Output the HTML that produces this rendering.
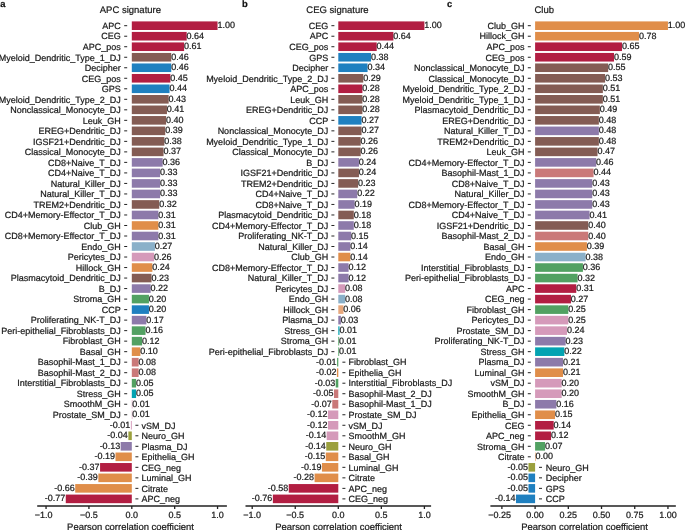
<!DOCTYPE html>
<html lang="en"><head><meta charset="utf-8"><title>Pearson correlation coefficient</title>
<style>
html,body{margin:0;padding:0;background:#fff;}
body{width:685px;height:530px;overflow:hidden;}
svg{display:block;text-rendering:geometricPrecision;font-family:"Liberation Sans",Arial,Helvetica,sans-serif;fill:#1a1a1a;}
text{stroke:#1a1a1a;stroke-width:0.22px;stroke-linejoin:round;}
</style></head><body>
<svg width="685" height="530" viewBox="0 0 685 530">
<rect width="685" height="530" fill="#fff"/>
<g>
<text x="0.2" y="7" font-size="9.4" font-weight="bold" fill="#111" stroke="#111" stroke-width="0.3" stroke-linejoin="round">a</text>
<text x="130.4" y="12.9" font-size="9.5" text-anchor="middle">APC signature</text>
<rect x="131.8" y="21.4" width="85.75" height="8.6" fill="#b21e42"/>
<rect x="131.8" y="31.92" width="54.88" height="8.6" fill="#b21e42"/>
<rect x="131.8" y="42.43" width="52.31" height="8.6" fill="#b21e42"/>
<rect x="131.8" y="52.95" width="39.45" height="8.6" fill="#845c54"/>
<rect x="131.8" y="63.46" width="39.45" height="8.6" fill="#1f80c0"/>
<rect x="131.8" y="73.98" width="38.59" height="8.6" fill="#b21e42"/>
<rect x="131.8" y="84.49" width="37.73" height="8.6" fill="#1f80c0"/>
<rect x="131.8" y="95.01" width="36.87" height="8.6" fill="#845c54"/>
<rect x="131.8" y="105.52" width="35.16" height="8.6" fill="#845c54"/>
<rect x="131.8" y="116.04" width="34.3" height="8.6" fill="#845c54"/>
<rect x="131.8" y="126.55" width="33.44" height="8.6" fill="#845c54"/>
<rect x="131.8" y="137.06" width="32.59" height="8.6" fill="#845c54"/>
<rect x="131.8" y="147.58" width="31.73" height="8.6" fill="#845c54"/>
<rect x="131.8" y="158.09" width="30.87" height="8.6" fill="#8d7aaa"/>
<rect x="131.8" y="168.61" width="28.3" height="8.6" fill="#8d7aaa"/>
<rect x="131.8" y="179.12" width="28.3" height="8.6" fill="#8d7aaa"/>
<rect x="131.8" y="189.64" width="28.3" height="8.6" fill="#8d7aaa"/>
<rect x="131.8" y="200.15" width="27.44" height="8.6" fill="#845c54"/>
<rect x="131.8" y="210.67" width="26.58" height="8.6" fill="#8d7aaa"/>
<rect x="131.8" y="221.19" width="26.58" height="8.6" fill="#e08e4a"/>
<rect x="131.8" y="231.7" width="26.58" height="8.6" fill="#8d7aaa"/>
<rect x="131.8" y="242.21" width="23.15" height="8.6" fill="#8ab0c9"/>
<rect x="131.8" y="252.73" width="22.3" height="8.6" fill="#d59aba"/>
<rect x="131.8" y="263.25" width="20.58" height="8.6" fill="#e08e4a"/>
<rect x="131.8" y="273.76" width="19.72" height="8.6" fill="#845c54"/>
<rect x="131.8" y="284.27" width="18.86" height="8.6" fill="#8d7aaa"/>
<rect x="131.8" y="294.79" width="17.15" height="8.6" fill="#52a162"/>
<rect x="131.8" y="305.31" width="17.15" height="8.6" fill="#1f80c0"/>
<rect x="131.8" y="315.82" width="14.58" height="8.6" fill="#8d7aaa"/>
<rect x="131.8" y="326.33" width="13.72" height="8.6" fill="#52a162"/>
<rect x="131.8" y="336.85" width="10.29" height="8.6" fill="#52a162"/>
<rect x="131.8" y="347.37" width="8.58" height="8.6" fill="#e08e4a"/>
<rect x="131.8" y="357.88" width="6.86" height="8.6" fill="#ca7979"/>
<rect x="131.8" y="368.39" width="6.86" height="8.6" fill="#ca7979"/>
<rect x="131.8" y="378.91" width="4.29" height="8.6" fill="#52a162"/>
<rect x="131.8" y="389.43" width="4.29" height="8.6" fill="#03a3b2"/>
<rect x="131.8" y="399.94" width="0.6" height="8.6" fill="#d59aba"/>
<rect x="131.8" y="410.45" width="0.6" height="8.6" fill="#d59aba"/>
<rect x="130.86" y="420.97" width="0.94" height="8.6" fill="#d59aba"/>
<rect x="128.37" y="431.49" width="3.43" height="8.6" fill="#9ba03d"/>
<rect x="120.65" y="442" width="11.15" height="8.6" fill="#8d7aaa"/>
<rect x="115.51" y="452.51" width="16.29" height="8.6" fill="#e08e4a"/>
<rect x="100.07" y="463.03" width="31.73" height="8.6" fill="#b21e42"/>
<rect x="98.36" y="473.55" width="33.44" height="8.6" fill="#e08e4a"/>
<rect x="75.21" y="484.06" width="56.6" height="8.6" fill="#e08e4a"/>
<rect x="65.77" y="494.57" width="66.03" height="8.6" fill="#b21e42"/>
<path d="M127.2 25.7h-3M127.2 36.22h-3M127.2 46.73h-3M127.2 57.25h-3M127.2 67.76h-3M127.2 78.28h-3M127.2 88.79h-3M127.2 99.31h-3M127.2 109.82h-3M127.2 120.34h-3M127.2 130.85h-3M127.2 141.37h-3M127.2 151.88h-3M127.2 162.39h-3M127.2 172.91h-3M127.2 183.43h-3M127.2 193.94h-3M127.2 204.45h-3M127.2 214.97h-3M127.2 225.49h-3M127.2 236h-3M127.2 246.51h-3M127.2 257.03h-3M127.2 267.55h-3M127.2 278.06h-3M127.2 288.57h-3M127.2 299.09h-3M127.2 309.61h-3M127.2 320.12h-3M127.2 330.63h-3M127.2 341.15h-3M127.2 351.67h-3M127.2 362.18h-3M127.2 372.69h-3M127.2 383.21h-3M127.2 393.73h-3M127.2 404.24h-3M127.2 414.75h-3M135.4 425.27h3M135.4 435.79h3M135.4 446.3h3M135.4 456.81h3M135.4 467.33h3M135.4 477.85h3M135.4 488.36h3M135.4 498.88h3" stroke="#222" stroke-width="1.0" fill="none"/>
<g font-size="9">
<text x="120.8" y="28.95" text-anchor="end">APC</text>
<text x="217.45" y="28.25">1.00</text>
<text x="120.8" y="39.47" text-anchor="end">CEG</text>
<text x="186.58" y="38.77">0.64</text>
<text x="120.8" y="49.98" text-anchor="end">APC_pos</text>
<text x="184.01" y="49.28">0.61</text>
<text x="120.8" y="60.5" text-anchor="end">Myeloid_Dendritic_Type_1_DJ</text>
<text x="171.15" y="59.8">0.46</text>
<text x="120.8" y="71.01" text-anchor="end">Decipher</text>
<text x="171.15" y="70.31">0.46</text>
<text x="120.8" y="81.53" text-anchor="end">CEG_pos</text>
<text x="170.29" y="80.83">0.45</text>
<text x="120.8" y="92.04" text-anchor="end">GPS</text>
<text x="169.43" y="91.34">0.44</text>
<text x="120.8" y="102.56" text-anchor="end">Myeloid_Dendritic_Type_2_DJ</text>
<text x="168.57" y="101.86">0.43</text>
<text x="120.8" y="113.07" text-anchor="end">Nonclassical_Monocyte_DJ</text>
<text x="166.86" y="112.37">0.41</text>
<text x="120.8" y="123.59" text-anchor="end">Leuk_GH</text>
<text x="166" y="122.89">0.40</text>
<text x="120.8" y="134.1" text-anchor="end">EREG+Dendritic_DJ</text>
<text x="165.14" y="133.4">0.39</text>
<text x="120.8" y="144.62" text-anchor="end">IGSF21+Dendritic_DJ</text>
<text x="164.29" y="143.92">0.38</text>
<text x="120.8" y="155.13" text-anchor="end">Classical_Monocyte_DJ</text>
<text x="163.43" y="154.43">0.37</text>
<text x="120.8" y="165.64" text-anchor="end">CD8+Naive_T_DJ</text>
<text x="162.57" y="164.94">0.36</text>
<text x="120.8" y="176.16" text-anchor="end">CD4+Naive_T_DJ</text>
<text x="160" y="175.46">0.33</text>
<text x="120.8" y="186.68" text-anchor="end">Natural_Killer_DJ</text>
<text x="160" y="185.98">0.33</text>
<text x="120.8" y="197.19" text-anchor="end">Natural_Killer_T_DJ</text>
<text x="160" y="196.49">0.33</text>
<text x="120.8" y="207.7" text-anchor="end">TREM2+Dendritic_DJ</text>
<text x="159.14" y="207">0.32</text>
<text x="120.8" y="218.22" text-anchor="end">CD4+Memory-Effector_T_DJ</text>
<text x="158.28" y="217.52">0.31</text>
<text x="120.8" y="228.74" text-anchor="end">Club_GH</text>
<text x="158.28" y="228.04">0.31</text>
<text x="120.8" y="239.25" text-anchor="end">CD8+Memory-Effector_T_DJ</text>
<text x="158.28" y="238.55">0.31</text>
<text x="120.8" y="249.76" text-anchor="end">Endo_GH</text>
<text x="154.85" y="249.06">0.27</text>
<text x="120.8" y="260.28" text-anchor="end">Pericytes_DJ</text>
<text x="154" y="259.58">0.26</text>
<text x="120.8" y="270.8" text-anchor="end">Hillock_GH</text>
<text x="152.28" y="270.1">0.24</text>
<text x="120.8" y="281.31" text-anchor="end">Plasmacytoid_Dendritic_DJ</text>
<text x="151.42" y="280.61">0.23</text>
<text x="120.8" y="291.82" text-anchor="end">B_DJ</text>
<text x="150.57" y="291.12">0.22</text>
<text x="120.8" y="302.34" text-anchor="end">Stroma_GH</text>
<text x="148.85" y="301.64">0.20</text>
<text x="120.8" y="312.86" text-anchor="end">CCP</text>
<text x="148.85" y="312.16">0.20</text>
<text x="120.8" y="323.37" text-anchor="end">Proliferating_NK-T_DJ</text>
<text x="146.28" y="322.67">0.17</text>
<text x="120.8" y="333.88" text-anchor="end">Peri-epithelial_Fibroblasts_DJ</text>
<text x="145.42" y="333.19">0.16</text>
<text x="120.8" y="344.4" text-anchor="end">Fibroblast_GH</text>
<text x="141.99" y="343.7">0.12</text>
<text x="120.8" y="354.92" text-anchor="end">Basal_GH</text>
<text x="140.28" y="354.22">0.10</text>
<text x="120.8" y="365.43" text-anchor="end">Basophil-Mast_1_DJ</text>
<text x="138.56" y="364.73">0.08</text>
<text x="120.8" y="375.94" text-anchor="end">Basophil-Mast_2_DJ</text>
<text x="138.56" y="375.25">0.08</text>
<text x="120.8" y="386.46" text-anchor="end">Interstitial_Fibroblasts_DJ</text>
<text x="135.99" y="385.76">0.05</text>
<text x="120.8" y="396.98" text-anchor="end">Stress_GH</text>
<text x="135.99" y="396.28">0.05</text>
<text x="120.8" y="407.49" text-anchor="end">SmoothM_GH</text>
<text x="132.3" y="406.79">0.01</text>
<text x="120.8" y="418" text-anchor="end">Prostate_SM_DJ</text>
<text x="132.3" y="417.31">0.01</text>
<text x="141.4" y="428.52">vSM_DJ</text>
<text x="130.36" y="427.82" text-anchor="end">-0.01</text>
<text x="141.4" y="439.04">Neuro_GH</text>
<text x="127.87" y="438.34" text-anchor="end">-0.04</text>
<text x="141.4" y="449.55">Plasma_DJ</text>
<text x="120.15" y="448.85" text-anchor="end">-0.13</text>
<text x="141.4" y="460.06">Epithelia_GH</text>
<text x="115.01" y="459.37" text-anchor="end">-0.19</text>
<text x="141.4" y="470.58">CEG_neg</text>
<text x="99.57" y="469.88" text-anchor="end">-0.37</text>
<text x="141.4" y="481.1">Luminal_GH</text>
<text x="97.86" y="480.4" text-anchor="end">-0.39</text>
<text x="141.4" y="491.61">Citrate</text>
<text x="74.71" y="490.91" text-anchor="end">-0.66</text>
<text x="141.4" y="502.12">APC_neg</text>
<text x="65.27" y="501.43" text-anchor="end">-0.77</text>
</g>
<path d="M37.2 506H226.9M46.05 506v3M88.93 506v3M131.8 506v3M174.68 506v3M217.55 506v3" stroke="#222" stroke-width="1.3" fill="none"/>
<g font-size="9" text-anchor="middle">
<text x="43.75" y="518.45">−1.0</text>
<text x="88.93" y="518.45">−0.5</text>
<text x="131.8" y="518.45">0.0</text>
<text x="174.68" y="518.45">0.5</text>
<text x="217.55" y="518.45">1.0</text>
</g>
<text x="130.5" y="529.8" font-size="9.45" text-anchor="middle">Pearson correlation coefficient</text>
</g>
<g>
<text x="242.1" y="7" font-size="9.4" font-weight="bold" fill="#111" stroke="#111" stroke-width="0.3" stroke-linejoin="round">b</text>
<text x="337.5" y="12.9" font-size="9.5" text-anchor="middle">CEG signature</text>
<rect x="338.3" y="21.4" width="86.1" height="8.6" fill="#b21e42"/>
<rect x="338.3" y="31.92" width="55.1" height="8.6" fill="#b21e42"/>
<rect x="338.3" y="42.43" width="38.4" height="8.6" fill="#b21e42"/>
<rect x="338.3" y="52.95" width="32.72" height="8.6" fill="#1f80c0"/>
<rect x="338.3" y="63.46" width="29.27" height="8.6" fill="#1f80c0"/>
<rect x="338.3" y="73.98" width="24.97" height="8.6" fill="#845c54"/>
<rect x="338.3" y="84.49" width="24.11" height="8.6" fill="#b21e42"/>
<rect x="338.3" y="95.01" width="24.11" height="8.6" fill="#845c54"/>
<rect x="338.3" y="105.52" width="24.11" height="8.6" fill="#845c54"/>
<rect x="338.3" y="116.04" width="23.25" height="8.6" fill="#1f80c0"/>
<rect x="338.3" y="126.55" width="23.25" height="8.6" fill="#845c54"/>
<rect x="338.3" y="137.06" width="22.39" height="8.6" fill="#845c54"/>
<rect x="338.3" y="147.58" width="22.39" height="8.6" fill="#845c54"/>
<rect x="338.3" y="158.09" width="20.66" height="8.6" fill="#8d7aaa"/>
<rect x="338.3" y="168.61" width="20.66" height="8.6" fill="#845c54"/>
<rect x="338.3" y="179.12" width="19.8" height="8.6" fill="#845c54"/>
<rect x="338.3" y="189.64" width="18.94" height="8.6" fill="#8d7aaa"/>
<rect x="338.3" y="200.15" width="16.36" height="8.6" fill="#8d7aaa"/>
<rect x="338.3" y="210.67" width="15.5" height="8.6" fill="#845c54"/>
<rect x="338.3" y="221.19" width="15.5" height="8.6" fill="#8d7aaa"/>
<rect x="338.3" y="231.7" width="12.91" height="8.6" fill="#8d7aaa"/>
<rect x="338.3" y="242.21" width="12.05" height="8.6" fill="#8d7aaa"/>
<rect x="338.3" y="252.73" width="12.05" height="8.6" fill="#e08e4a"/>
<rect x="338.3" y="263.25" width="10.33" height="8.6" fill="#8d7aaa"/>
<rect x="338.3" y="273.76" width="10.33" height="8.6" fill="#8d7aaa"/>
<rect x="338.3" y="284.27" width="6.89" height="8.6" fill="#d59aba"/>
<rect x="338.3" y="294.79" width="6.89" height="8.6" fill="#8ab0c9"/>
<rect x="338.3" y="305.31" width="5.17" height="8.6" fill="#e7a87d"/>
<rect x="338.3" y="315.82" width="2.58" height="8.6" fill="#8d7aaa"/>
<rect x="338.3" y="326.33" width="1.21" height="8.6" fill="#03a3b2"/>
<rect x="338.3" y="336.85" width="0.86" height="8.6" fill="#52a162"/>
<rect x="338.3" y="347.37" width="0.86" height="8.6" fill="#52a162"/>
<rect x="337.09" y="357.88" width="1.21" height="8.6" fill="#52a162"/>
<rect x="336.92" y="368.39" width="1.38" height="8.6" fill="#e08e4a"/>
<rect x="335.72" y="378.91" width="2.58" height="8.6" fill="#52a162"/>
<rect x="334" y="389.43" width="4.3" height="8.6" fill="#ca7979"/>
<rect x="332.27" y="399.94" width="6.03" height="8.6" fill="#ca7979"/>
<rect x="327.97" y="410.45" width="10.33" height="8.6" fill="#d59aba"/>
<rect x="327.97" y="420.97" width="10.33" height="8.6" fill="#d59aba"/>
<rect x="326.68" y="431.49" width="11.62" height="8.6" fill="#d59aba"/>
<rect x="326.25" y="442" width="12.05" height="8.6" fill="#9ba03d"/>
<rect x="325.77" y="452.51" width="12.53" height="8.6" fill="#e08e4a"/>
<rect x="321.94" y="463.03" width="16.36" height="8.6" fill="#e08e4a"/>
<rect x="314.58" y="473.55" width="23.72" height="8.6" fill="#e08e4a"/>
<rect x="288.75" y="484.06" width="49.55" height="8.6" fill="#b21e42"/>
<rect x="272.86" y="494.57" width="65.44" height="8.6" fill="#b21e42"/>
<path d="M334.4 25.7h-3M334.4 36.22h-3M334.4 46.73h-3M334.4 57.25h-3M334.4 67.76h-3M334.4 78.28h-3M334.4 88.79h-3M334.4 99.31h-3M334.4 109.82h-3M334.4 120.34h-3M334.4 130.85h-3M334.4 141.37h-3M334.4 151.88h-3M334.4 162.39h-3M334.4 172.91h-3M334.4 183.43h-3M334.4 193.94h-3M334.4 204.45h-3M334.4 214.97h-3M334.4 225.49h-3M334.4 236h-3M334.4 246.51h-3M334.4 257.03h-3M334.4 267.55h-3M334.4 278.06h-3M334.4 288.57h-3M334.4 299.09h-3M334.4 309.61h-3M334.4 320.12h-3M334.4 330.63h-3M334.4 341.15h-3M334.4 351.67h-3M342.4 362.18h3M342.4 372.69h3M342.4 383.21h3M342.4 393.73h3M342.4 404.24h3M342.4 414.75h3M342.4 425.27h3M342.4 435.79h3M342.4 446.3h3M342.4 456.81h3M342.4 467.33h3M342.4 477.85h3M342.4 488.36h3M342.4 498.88h3" stroke="#222" stroke-width="1.0" fill="none"/>
<g font-size="9">
<text x="328.2" y="28.95" text-anchor="end">CEG</text>
<text x="424.3" y="28.25">1.00</text>
<text x="328.2" y="39.47" text-anchor="end">APC</text>
<text x="393.3" y="38.77">0.64</text>
<text x="328.2" y="49.98" text-anchor="end">CEG_pos</text>
<text x="376.6" y="49.28">0.44</text>
<text x="328.2" y="60.5" text-anchor="end">GPS</text>
<text x="370.92" y="59.8">0.38</text>
<text x="328.2" y="71.01" text-anchor="end">Decipher</text>
<text x="367.47" y="70.31">0.34</text>
<text x="328.2" y="81.53" text-anchor="end">Myeloid_Dendritic_Type_2_DJ</text>
<text x="363.17" y="80.83">0.29</text>
<text x="328.2" y="92.04" text-anchor="end">APC_pos</text>
<text x="362.31" y="91.34">0.28</text>
<text x="328.2" y="102.56" text-anchor="end">Leuk_GH</text>
<text x="362.31" y="101.86">0.28</text>
<text x="328.2" y="113.07" text-anchor="end">EREG+Dendritic_DJ</text>
<text x="362.31" y="112.37">0.28</text>
<text x="328.2" y="123.59" text-anchor="end">CCP</text>
<text x="361.45" y="122.89">0.27</text>
<text x="328.2" y="134.1" text-anchor="end">Nonclassical_Monocyte_DJ</text>
<text x="361.45" y="133.4">0.27</text>
<text x="328.2" y="144.62" text-anchor="end">Myeloid_Dendritic_Type_1_DJ</text>
<text x="360.59" y="143.92">0.26</text>
<text x="328.2" y="155.13" text-anchor="end">Classical_Monocyte_DJ</text>
<text x="360.59" y="154.43">0.26</text>
<text x="328.2" y="165.64" text-anchor="end">B_DJ</text>
<text x="358.86" y="164.94">0.24</text>
<text x="328.2" y="176.16" text-anchor="end">IGSF21+Dendritic_DJ</text>
<text x="358.86" y="175.46">0.24</text>
<text x="328.2" y="186.68" text-anchor="end">TREM2+Dendritic_DJ</text>
<text x="358" y="185.98">0.23</text>
<text x="328.2" y="197.19" text-anchor="end">CD4+Naive_T_DJ</text>
<text x="357.14" y="196.49">0.22</text>
<text x="328.2" y="207.7" text-anchor="end">CD8+Naive_T_DJ</text>
<text x="354.56" y="207">0.19</text>
<text x="328.2" y="218.22" text-anchor="end">Plasmacytoid_Dendritic_DJ</text>
<text x="353.7" y="217.52">0.18</text>
<text x="328.2" y="228.74" text-anchor="end">CD4+Memory-Effector_T_DJ</text>
<text x="353.7" y="228.04">0.18</text>
<text x="328.2" y="239.25" text-anchor="end">Proliferating_NK-T_DJ</text>
<text x="351.12" y="238.55">0.15</text>
<text x="328.2" y="249.76" text-anchor="end">Natural_Killer_DJ</text>
<text x="350.25" y="249.06">0.14</text>
<text x="328.2" y="260.28" text-anchor="end">Club_GH</text>
<text x="350.25" y="259.58">0.14</text>
<text x="328.2" y="270.8" text-anchor="end">CD8+Memory-Effector_T_DJ</text>
<text x="348.53" y="270.1">0.12</text>
<text x="328.2" y="281.31" text-anchor="end">Natural_Killer_T_DJ</text>
<text x="348.53" y="280.61">0.12</text>
<text x="328.2" y="291.82" text-anchor="end">Pericytes_DJ</text>
<text x="345.09" y="291.12">0.08</text>
<text x="328.2" y="302.34" text-anchor="end">Endo_GH</text>
<text x="345.09" y="301.64">0.08</text>
<text x="328.2" y="312.86" text-anchor="end">Hillock_GH</text>
<text x="343.37" y="312.16">0.06</text>
<text x="328.2" y="323.37" text-anchor="end">Plasma_DJ</text>
<text x="340.78" y="322.67">0.03</text>
<text x="328.2" y="333.88" text-anchor="end">Stress_GH</text>
<text x="339.41" y="333.19">0.01</text>
<text x="328.2" y="344.4" text-anchor="end">Stroma_GH</text>
<text x="339.06" y="343.7">0.01</text>
<text x="328.2" y="354.92" text-anchor="end">Peri-epithelial_Fibroblasts_DJ</text>
<text x="339.06" y="354.22">0.01</text>
<text x="348.6" y="365.43">Fibroblast_GH</text>
<text x="336.59" y="364.73" text-anchor="end">-0.01</text>
<text x="348.6" y="375.94">Epithelia_GH</text>
<text x="336.42" y="375.25" text-anchor="end">-0.02</text>
<text x="348.6" y="386.46">Interstitial_Fibroblasts_DJ</text>
<text x="335.22" y="385.76" text-anchor="end">-0.03</text>
<text x="348.6" y="396.98">Basophil-Mast_2_DJ</text>
<text x="333.5" y="396.28" text-anchor="end">-0.05</text>
<text x="348.6" y="407.49">Basophil-Mast_1_DJ</text>
<text x="331.77" y="406.79" text-anchor="end">-0.07</text>
<text x="348.6" y="418">Prostate_SM_DJ</text>
<text x="327.47" y="417.31" text-anchor="end">-0.12</text>
<text x="348.6" y="428.52">vSM_DJ</text>
<text x="327.47" y="427.82" text-anchor="end">-0.12</text>
<text x="348.6" y="439.04">SmoothM_GH</text>
<text x="326.18" y="438.34" text-anchor="end">-0.14</text>
<text x="348.6" y="449.55">Neuro_GH</text>
<text x="325.75" y="448.85" text-anchor="end">-0.14</text>
<text x="348.6" y="460.06">Basal_GH</text>
<text x="325.27" y="459.37" text-anchor="end">-0.15</text>
<text x="348.6" y="470.58">Luminal_GH</text>
<text x="321.44" y="469.88" text-anchor="end">-0.19</text>
<text x="348.6" y="481.1">Citrate</text>
<text x="314.08" y="480.4" text-anchor="end">-0.28</text>
<text x="348.6" y="491.61">APC_neg</text>
<text x="288.25" y="490.91" text-anchor="end">-0.58</text>
<text x="348.6" y="502.12">CEG_neg</text>
<text x="272.36" y="501.43" text-anchor="end">-0.76</text>
</g>
<path d="M245.5 506H431.1M252.2 506v3M295.25 506v3M338.3 506v3M381.35 506v3M424.4 506v3" stroke="#222" stroke-width="1.3" fill="none"/>
<g font-size="9" text-anchor="middle">
<text x="252.2" y="518.45">−1.0</text>
<text x="295.25" y="518.45">−0.5</text>
<text x="338.3" y="518.45">0.0</text>
<text x="381.35" y="518.45">0.5</text>
<text x="424.4" y="518.45">1.0</text>
</g>
<text x="338.6" y="529.8" font-size="9.45" text-anchor="middle">Pearson correlation coefficient</text>
</g>
<g>
<text x="447" y="7" font-size="9.4" font-weight="bold" fill="#111" stroke="#111" stroke-width="0.3" stroke-linejoin="round">c</text>
<text x="544.2" y="12.9" font-size="9.5" text-anchor="middle">Club</text>
<rect x="535.1" y="21.4" width="132.85" height="8.6" fill="#e08e4a"/>
<rect x="535.1" y="31.92" width="103.89" height="8.6" fill="#e08e4a"/>
<rect x="535.1" y="42.43" width="86.88" height="8.6" fill="#b21e42"/>
<rect x="535.1" y="52.95" width="78.91" height="8.6" fill="#b21e42"/>
<rect x="535.1" y="63.46" width="73.07" height="8.6" fill="#845c54"/>
<rect x="535.1" y="73.98" width="70.01" height="8.6" fill="#845c54"/>
<rect x="535.1" y="84.49" width="67.75" height="8.6" fill="#845c54"/>
<rect x="535.1" y="95.01" width="67.75" height="8.6" fill="#845c54"/>
<rect x="535.1" y="105.52" width="64.76" height="8.6" fill="#845c54"/>
<rect x="535.1" y="116.04" width="63.77" height="8.6" fill="#845c54"/>
<rect x="535.1" y="126.55" width="63.77" height="8.6" fill="#8d7aaa"/>
<rect x="535.1" y="137.06" width="63.77" height="8.6" fill="#845c54"/>
<rect x="535.1" y="147.58" width="62.44" height="8.6" fill="#845c54"/>
<rect x="535.1" y="158.09" width="61.11" height="8.6" fill="#8d7aaa"/>
<rect x="535.1" y="168.61" width="58.45" height="8.6" fill="#ca7979"/>
<rect x="535.1" y="179.12" width="57.13" height="8.6" fill="#8d7aaa"/>
<rect x="535.1" y="189.64" width="57.13" height="8.6" fill="#8d7aaa"/>
<rect x="535.1" y="200.15" width="57.13" height="8.6" fill="#8d7aaa"/>
<rect x="535.1" y="210.67" width="54.47" height="8.6" fill="#8d7aaa"/>
<rect x="535.1" y="221.19" width="53.14" height="8.6" fill="#845c54"/>
<rect x="535.1" y="231.7" width="53.14" height="8.6" fill="#ca7979"/>
<rect x="535.1" y="242.21" width="51.81" height="8.6" fill="#e08e4a"/>
<rect x="535.1" y="252.73" width="50.48" height="8.6" fill="#8ab0c9"/>
<rect x="535.1" y="263.25" width="47.83" height="8.6" fill="#52a162"/>
<rect x="535.1" y="273.76" width="42.51" height="8.6" fill="#52a162"/>
<rect x="535.1" y="284.27" width="41.18" height="8.6" fill="#b21e42"/>
<rect x="535.1" y="294.79" width="35.87" height="8.6" fill="#b21e42"/>
<rect x="535.1" y="305.31" width="33.21" height="8.6" fill="#52a162"/>
<rect x="535.1" y="315.82" width="33.21" height="8.6" fill="#d59aba"/>
<rect x="535.1" y="326.33" width="31.88" height="8.6" fill="#d59aba"/>
<rect x="535.1" y="336.85" width="30.56" height="8.6" fill="#8d7aaa"/>
<rect x="535.1" y="347.37" width="29.23" height="8.6" fill="#03a3b2"/>
<rect x="535.1" y="357.88" width="27.9" height="8.6" fill="#8d7aaa"/>
<rect x="535.1" y="368.39" width="27.9" height="8.6" fill="#e08e4a"/>
<rect x="535.1" y="378.91" width="26.57" height="8.6" fill="#d59aba"/>
<rect x="535.1" y="389.43" width="26.57" height="8.6" fill="#d59aba"/>
<rect x="535.1" y="399.94" width="21.26" height="8.6" fill="#8d7aaa"/>
<rect x="535.1" y="410.45" width="19.93" height="8.6" fill="#e08e4a"/>
<rect x="535.1" y="420.97" width="18.6" height="8.6" fill="#b21e42"/>
<rect x="535.1" y="431.49" width="15.94" height="8.6" fill="#b21e42"/>
<rect x="535.1" y="442" width="9.96" height="8.6" fill="#52a162"/>
<rect x="535.1" y="452.51" width="0.53" height="8.6" fill="#e08e4a"/>
<rect x="528.46" y="463.03" width="6.64" height="8.6" fill="#9ba03d"/>
<rect x="528.46" y="473.55" width="6.64" height="8.6" fill="#1f80c0"/>
<rect x="528.46" y="484.06" width="6.64" height="8.6" fill="#1f80c0"/>
<rect x="515.97" y="494.57" width="19.13" height="8.6" fill="#1f80c0"/>
<path d="M530.8 25.7h-3M530.8 36.22h-3M530.8 46.73h-3M530.8 57.25h-3M530.8 67.76h-3M530.8 78.28h-3M530.8 88.79h-3M530.8 99.31h-3M530.8 109.82h-3M530.8 120.34h-3M530.8 130.85h-3M530.8 141.37h-3M530.8 151.88h-3M530.8 162.39h-3M530.8 172.91h-3M530.8 183.43h-3M530.8 193.94h-3M530.8 204.45h-3M530.8 214.97h-3M530.8 225.49h-3M530.8 236h-3M530.8 246.51h-3M530.8 257.03h-3M530.8 267.55h-3M530.8 278.06h-3M530.8 288.57h-3M530.8 299.09h-3M530.8 309.61h-3M530.8 320.12h-3M530.8 330.63h-3M530.8 341.15h-3M530.8 351.67h-3M530.8 362.18h-3M530.8 372.69h-3M530.8 383.21h-3M530.8 393.73h-3M530.8 404.24h-3M530.8 414.75h-3M530.8 425.27h-3M530.8 435.79h-3M530.8 446.3h-3M530.8 456.81h-3M539 467.33h3M539 477.85h3M539 488.36h3M539 498.88h3" stroke="#222" stroke-width="1.0" fill="none"/>
<g font-size="9">
<text x="524.6" y="28.95" text-anchor="end">Club_GH</text>
<text x="667.85" y="28.25">1.00</text>
<text x="524.6" y="39.47" text-anchor="end">Hillock_GH</text>
<text x="638.89" y="38.77">0.78</text>
<text x="524.6" y="49.98" text-anchor="end">APC_pos</text>
<text x="621.88" y="49.28">0.65</text>
<text x="524.6" y="60.5" text-anchor="end">CEG_pos</text>
<text x="613.91" y="59.8">0.59</text>
<text x="524.6" y="71.01" text-anchor="end">Nonclassical_Monocyte_DJ</text>
<text x="608.07" y="70.31">0.55</text>
<text x="524.6" y="81.53" text-anchor="end">Classical_Monocyte_DJ</text>
<text x="605.01" y="80.83">0.53</text>
<text x="524.6" y="92.04" text-anchor="end">Myeloid_Dendritic_Type_2_DJ</text>
<text x="602.75" y="91.34">0.51</text>
<text x="524.6" y="102.56" text-anchor="end">Myeloid_Dendritic_Type_1_DJ</text>
<text x="602.75" y="101.86">0.51</text>
<text x="524.6" y="113.07" text-anchor="end">Plasmacytoid_Dendritic_DJ</text>
<text x="599.76" y="112.37">0.49</text>
<text x="524.6" y="123.59" text-anchor="end">EREG+Dendritic_DJ</text>
<text x="598.77" y="122.89">0.48</text>
<text x="524.6" y="134.1" text-anchor="end">Natural_Killer_T_DJ</text>
<text x="598.77" y="133.4">0.48</text>
<text x="524.6" y="144.62" text-anchor="end">TREM2+Dendritic_DJ</text>
<text x="598.77" y="143.92">0.48</text>
<text x="524.6" y="155.13" text-anchor="end">Leuk_GH</text>
<text x="597.44" y="154.43">0.47</text>
<text x="524.6" y="165.64" text-anchor="end">CD4+Memory-Effector_T_DJ</text>
<text x="596.11" y="164.94">0.46</text>
<text x="524.6" y="176.16" text-anchor="end">Basophil-Mast_1_DJ</text>
<text x="593.45" y="175.46">0.44</text>
<text x="524.6" y="186.68" text-anchor="end">CD8+Naive_T_DJ</text>
<text x="592.13" y="185.98">0.43</text>
<text x="524.6" y="197.19" text-anchor="end">Natural_Killer_DJ</text>
<text x="592.13" y="196.49">0.43</text>
<text x="524.6" y="207.7" text-anchor="end">CD8+Memory-Effector_T_DJ</text>
<text x="592.13" y="207">0.43</text>
<text x="524.6" y="218.22" text-anchor="end">CD4+Naive_T_DJ</text>
<text x="589.47" y="217.52">0.41</text>
<text x="524.6" y="228.74" text-anchor="end">IGSF21+Dendritic_DJ</text>
<text x="588.14" y="228.04">0.40</text>
<text x="524.6" y="239.25" text-anchor="end">Basophil-Mast_2_DJ</text>
<text x="588.14" y="238.55">0.40</text>
<text x="524.6" y="249.76" text-anchor="end">Basal_GH</text>
<text x="586.81" y="249.06">0.39</text>
<text x="524.6" y="260.28" text-anchor="end">Endo_GH</text>
<text x="585.48" y="259.58">0.38</text>
<text x="524.6" y="270.8" text-anchor="end">Interstitial_Fibroblasts_DJ</text>
<text x="582.83" y="270.1">0.36</text>
<text x="524.6" y="281.31" text-anchor="end">Peri-epithelial_Fibroblasts_DJ</text>
<text x="577.51" y="280.61">0.32</text>
<text x="524.6" y="291.82" text-anchor="end">APC</text>
<text x="576.18" y="291.12">0.31</text>
<text x="524.6" y="302.34" text-anchor="end">CEG_neg</text>
<text x="570.87" y="301.64">0.27</text>
<text x="524.6" y="312.86" text-anchor="end">Fibroblast_GH</text>
<text x="568.21" y="312.16">0.25</text>
<text x="524.6" y="323.37" text-anchor="end">Pericytes_DJ</text>
<text x="568.21" y="322.67">0.25</text>
<text x="524.6" y="333.88" text-anchor="end">Prostate_SM_DJ</text>
<text x="566.88" y="333.19">0.24</text>
<text x="524.6" y="344.4" text-anchor="end">Proliferating_NK-T_DJ</text>
<text x="565.56" y="343.7">0.23</text>
<text x="524.6" y="354.92" text-anchor="end">Stress_GH</text>
<text x="564.23" y="354.22">0.22</text>
<text x="524.6" y="365.43" text-anchor="end">Plasma_DJ</text>
<text x="562.9" y="364.73">0.21</text>
<text x="524.6" y="375.94" text-anchor="end">Luminal_GH</text>
<text x="562.9" y="375.25">0.21</text>
<text x="524.6" y="386.46" text-anchor="end">vSM_DJ</text>
<text x="561.57" y="385.76">0.20</text>
<text x="524.6" y="396.98" text-anchor="end">SmoothM_GH</text>
<text x="561.57" y="396.28">0.20</text>
<text x="524.6" y="407.49" text-anchor="end">B_DJ</text>
<text x="556.26" y="406.79">0.16</text>
<text x="524.6" y="418" text-anchor="end">Epithelia_GH</text>
<text x="554.93" y="417.31">0.15</text>
<text x="524.6" y="428.52" text-anchor="end">CEG</text>
<text x="553.6" y="427.82">0.14</text>
<text x="524.6" y="439.04" text-anchor="end">APC_neg</text>
<text x="550.94" y="438.34">0.12</text>
<text x="524.6" y="449.55" text-anchor="end">Stroma_GH</text>
<text x="544.96" y="448.85">0.07</text>
<text x="524.6" y="460.06" text-anchor="end">Citrate</text>
<text x="535.53" y="459.37">0.00</text>
<text x="545.7" y="470.58">Neuro_GH</text>
<text x="527.96" y="469.88" text-anchor="end">-0.05</text>
<text x="545.7" y="481.1">Decipher</text>
<text x="527.96" y="480.4" text-anchor="end">-0.05</text>
<text x="545.7" y="491.61">GPS</text>
<text x="527.96" y="490.91" text-anchor="end">-0.05</text>
<text x="545.7" y="502.12">CCP</text>
<text x="515.47" y="501.43" text-anchor="end">-0.14</text>
</g>
<path d="M490.4 506H675.85M501.89 506v3M535.1 506v3M568.31 506v3M601.52 506v3M634.74 506v3M667.95 506v3" stroke="#222" stroke-width="1.3" fill="none"/>
<g font-size="9" text-anchor="middle">
<text x="499.59" y="518.45">−0.25</text>
<text x="535.1" y="518.45">0.00</text>
<text x="568.31" y="518.45">0.25</text>
<text x="601.52" y="518.45">0.50</text>
<text x="634.74" y="518.45">0.75</text>
<text x="667.95" y="518.45">1.00</text>
</g>
<text x="584.6" y="529.8" font-size="9.45" text-anchor="middle">Pearson correlation coefficient</text>
</g>
</svg>
</body></html>
